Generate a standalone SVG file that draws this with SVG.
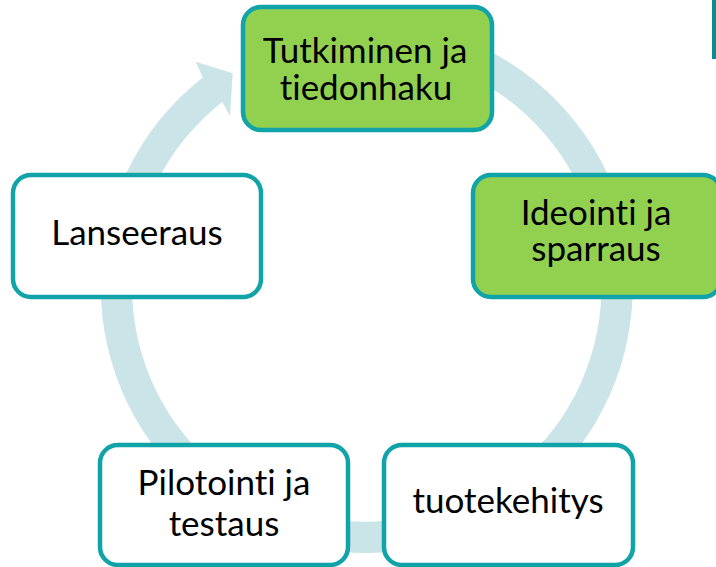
<svg xmlns="http://www.w3.org/2000/svg" width="716" height="567" viewBox="0 0 716 567">
<style>
.node rect{stroke:#10A3A8;stroke-width:4.5}
.green rect{fill:#92D050}
.white rect{fill:#FFFFFF}
text{font-family:Lato,"Open Sans","Liberation Sans",sans-serif;font-size:35px;fill:#000000;text-anchor:middle;font-variant-ligatures:none;font-feature-settings:"liga" 0}
</style>
<rect width="716" height="567" fill="#FFFFFF"/>
<g id="connectors">
<path d="M412.9,25.0 A266,266 0 1 1 202.9,77.4 L195.7,61.7 L232.7,73.3 L230,116 L222.2,102.1 A234.7,234.7 0 1 0 407.5,55.9 Z" fill="#CBE4E8"/>
</g>
<g id="node-tutkiminen" class="node green">
<rect x="243" y="7" width="249" height="123" rx="18"/>
<text x="365" y="63">Tutkiminen ja</text>
<text x="366" y="100">tiedonhaku</text>
</g>
<g id="node-ideointi" class="node green">
<rect x="473" y="175" width="248" height="122" rx="18"/>
<text x="596" y="225">Ideointi ja</text>
<text x="596" y="261">sparraus</text>
</g>
<g id="node-tuotekehitys" class="node white">
<rect x="384" y="445" width="249" height="120" rx="18"/>
<text x="508" y="513">tuotekehitys</text>
</g>
<g id="node-pilotointi" class="node white">
<rect x="100" y="445" width="248" height="120" rx="18"/>
<text x="224" y="495">Pilotointi ja</text>
<text x="224" y="536">testaus</text>
</g>
<g id="node-lanseeraus" class="node white">
<rect x="13" y="175" width="248" height="122" rx="18"/>
<text x="137" y="245">Lanseeraus</text>
</g>
<rect x="712" y="0" width="4" height="59" fill="#0E8B8E"/>
</svg>
